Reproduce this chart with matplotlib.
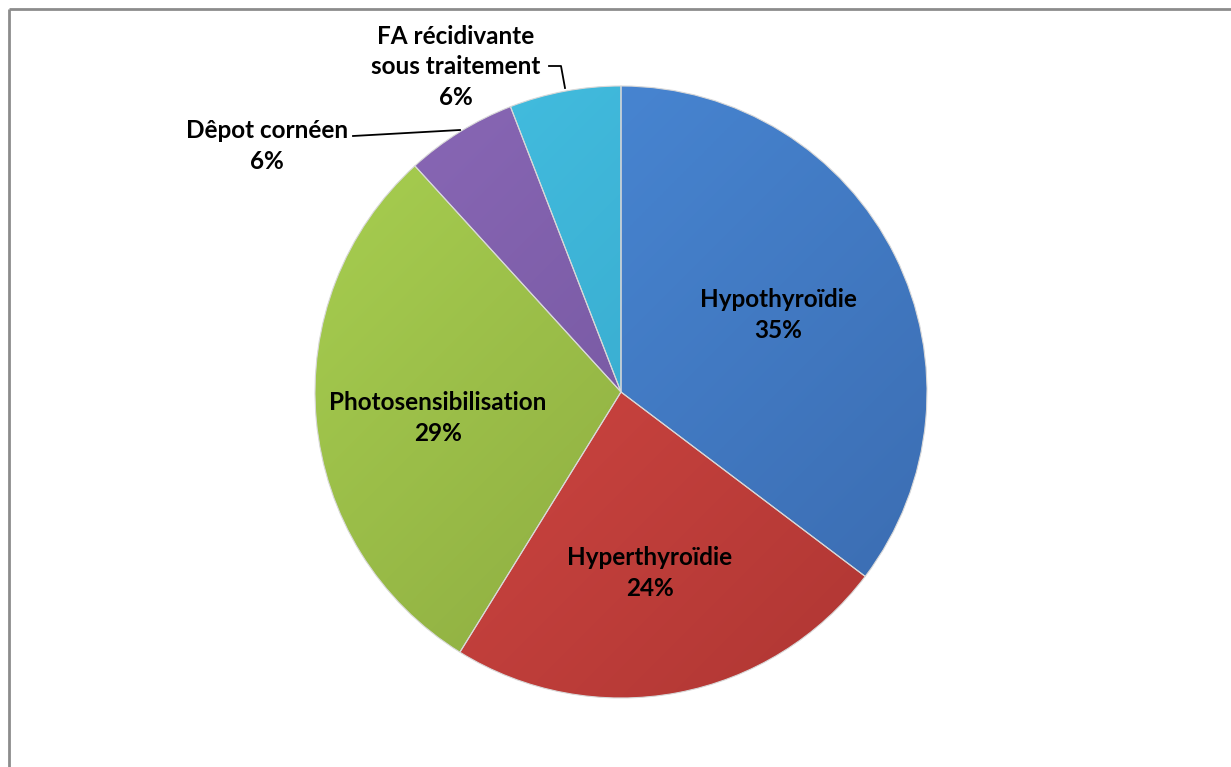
import numpy as np
import matplotlib
matplotlib.use("Agg")
import matplotlib.pyplot as plt
from matplotlib.colors import LinearSegmentedColormap

labels = ["Hypothyroïdie", "Hyperthyroïdie", "Photosensibilisation", "Dêpot cornéen", "FA récidivante\nsous traitement"]
counts = [6, 4, 5, 1, 1]
pct_labels = ["35%", "24%", "29%", "6%", "6%"]
light_colors = ["#4b8ddc", "#dd4d48", "#a9d151", "#8b69b8", "#45c1e3"]
dark_colors = ["#3a6aae", "#ad3532", "#849f3b", "#6a4e93", "#309dc1"]

W, H = 1231, 767
fig = plt.figure(figsize=(W / 100, H / 100), dpi=100)
ax = fig.add_axes([0, 0, 1, 1])

cx, cy, r = 621, H - 392, 306
wedges, _ = ax.pie(counts, startangle=90, counterclock=False, center=(cx, cy), radius=r,
                   colors=light_colors, wedgeprops=dict(edgecolor="#d8d8d8", linewidth=0.8),
                   frame=True)
ax.set_xlim(0, W)
ax.set_ylim(0, H)
ax.set_aspect("equal")
ax.axis("off")

# gradient shading clipped to each wedge
yy, xx = np.mgrid[0:200, 0:200]
grad = (xx + (199 - yy)) / 398.0
for w, lc, dc in zip(wedges, light_colors, dark_colors):
    cmap = LinearSegmentedColormap.from_list("g", [lc, dc])
    im = ax.imshow(grad, cmap=cmap, extent=(cx - r, cx + r, cy - r, cy + r), origin="lower",
                   zorder=w.get_zorder() + 0.1, interpolation="bilinear")
    im.set_clip_path(w)
    w.set_zorder(w.get_zorder() + 0.2)
    w.set_facecolor("none")

font = dict(family=["Lato", "DejaVu Sans"], fontweight="bold", fontsize=17.5, color="black",
            ha="center", va="center", zorder=10, linespacing=1.42)

def px(x, y):
    return x, H - y

texts = [l + "\n" + p for l, p in zip(labels, pct_labels)]
positions = [(778, 315), (650, 573), (438, 418), (267, 146), (456, 67)]
for t, (x, y) in zip(texts, positions):
    ax.text(*px(x, y), t, **font)

# leader lines
ax.plot([353, 460], [H - 136, H - 130], color="black", lw=1.3, zorder=9)
ax.plot([549, 561, 565], [H - 66, H - 66, H - 88], color="black", lw=1.3, zorder=9)

# frame
ax.plot([9, W], [H - 9, H - 9], color="#8c8c8c", lw=2, zorder=9, solid_capstyle="butt")
ax.plot([9, 9], [H - 9, 0], color="#8c8c8c", lw=2, zorder=9, solid_capstyle="butt")

fig.savefig("out.png", dpi=100, facecolor="white")
